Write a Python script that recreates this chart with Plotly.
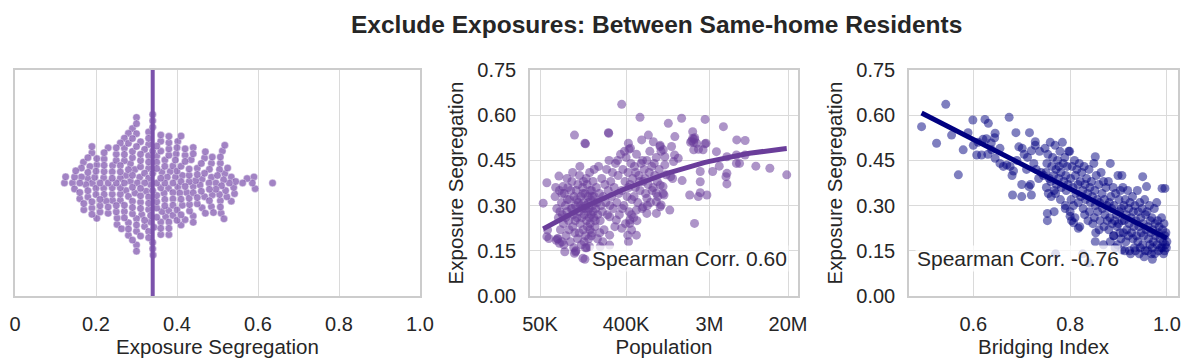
import numpy as np
import plotly.graph_objects as go

# ---- data ------------------------------------------------------------------
# panel 2: population (thousands) vs exposure segregation
population_k = [
    360, 560, 1530, 2700, 1110, 4200, 115, 148, 150, 261,
    263, 686, 2000, 2000, 1300, 583, 423, 773, 908, 984,
    430, 2050, 2200, 2760, 5800, 7100, 2050, 2570, 3550, 4570,
    5750, 6200, 9200, 12900, 19400, 3240, 4570, 4570, 3800, 2400,
    2400, 1860, 2290, 2820, 2090, 1550, 1230, 1150, 912, 977,
    832, 661, 603, 513, 437, 457, 513, 424, 360, 316,
    269, 269, 269, 214, 166, 148, 115, 91, 85, 74,
    76, 62, 60, 54, 59, 79, 87,
    1950, 2080, 1900, 2100, 2690, 1200, 912, 930, 1020, 1290,
    1410, 1260, 1020, 2300, 5750, 7080, 4470, 1050, 1175, 912,
    977, 933, 2400, 1000,
    59, 80, 118, 141, 150, 417, 437, 661, 832, 832,
    72, 75, 78, 80, 82, 84, 86, 88, 90, 92,
    94, 96, 98, 100, 102, 104, 106, 108, 110, 112,
    114, 116, 118, 120, 122, 124, 126, 128, 130, 132,
    134, 136, 138, 140, 142, 144, 146, 148, 150, 152,
    154, 156, 158, 160, 162, 164, 166, 168, 170, 172,
    174, 176, 178, 180, 183, 186, 189, 192, 195, 198,
    202, 206, 210, 214, 218, 222, 226, 230, 235, 240,
    245, 250, 255, 260, 265, 270, 276, 282, 288, 295,
    73, 77, 81, 85, 89, 93, 97, 101, 105, 109,
    113, 117, 121, 125, 129, 133, 137, 141, 145, 149,
    153, 157, 161, 165, 169, 173, 177, 181, 185, 190,
    96, 110, 119, 131, 143, 155, 167, 200, 212, 228,
    300, 310, 320, 330, 340, 350, 360, 370, 380, 390,
    400, 410, 420, 430, 440, 450, 460, 470, 480, 490,
    500, 515, 530, 545, 560, 575, 590, 605, 620, 640,
    660, 680, 700, 720, 745, 770, 800, 830, 860, 890,
    305, 335, 365, 395, 425, 455, 485, 520, 555, 595,
    630, 670, 710, 750, 790, 850, 325, 385, 445, 505,
]
pop_seg = [
    .636, .593, .590, .586, .573, .562, .534, .507, .505, .542,
    .540, .534, .545, .523, .529, .518, .507, .512, .496, .485,
    .487, .509, .507, .507, .518, .516, .485, .485, .479, .462,
    .440, .440, .431, .424, .402, .413, .407, .372, .431, .413,
    .379, .335, .330, .335, .241, .383, .390, .285, .296, .363,
    .313, .324, .296, .285, .252, .219, .202, .180, .225, .252,
    .263, .202, .169, .164, .164, .122, .142, .147, .180, .185,
    .190, .191, .219, .308, .376, .398, .363,
    .515, .520, .510, .525, .505, .496, .500, .480, .462, .468,
    .457, .446, .435, .487, .468, .468, .396, .402, .396, .368,
    .340, .302, .343, .335,
    .197, .175, .147, .125, .160, .202, .241, .274, .274, .341,
    .33, .29, .26, .35, .22, .31, .27, .24, .34, .30,
    .20, .28, .36, .25, .32, .18, .29, .38, .23, .27,
    .33, .21, .30, .35, .26, .19, .31, .28, .40, .24,
    .33, .17, .29, .36, .22, .31, .27, .34, .20, .30,
    .25, .37, .28, .33, .19, .29, .41, .24, .32, .27,
    .35, .21, .30, .38, .26, .33, .23, .29, .36, .31,
    .27, .43, .34, .25, .30, .39, .28, .33, .22, .37,
    .31, .42, .27, .35, .45, .30, .38, .33, .41, .29,
    .36, .19, .28, .34, .17, .26, .32, .22, .35, .29,
    .16, .25, .32, .37, .21, .30, .26, .34, .18, .29,
    .39, .23, .31, .26, .35, .20, .33, .28, .42, .25,
    .39, .41, .15, .43, .38, .16, .22, .19, .21, .18,
    .36, .44, .31, .40, .27, .47, .35, .42, .30, .38,
    .46, .33, .41, .28, .37, .44, .32, .39, .26, .43,
    .36, .47, .31, .40, .35, .44, .29, .38, .42, .34,
    .45, .37, .41, .31, .43, .36, .40, .46, .33, .42,
    .23, .34, .29, .24, .36, .27, .33, .25, .38, .45,
    .39, .30, .48, .35, .44, .38, .45, .48, .49, .41,
]

# panel 3: bridging index vs exposure segregation
bridging = [
    0.493, 0.543, 0.524, 0.569, 0.555, 0.579, 0.589, 0.599, 0.607, 0.617,
    0.620, 0.627, 0.637, 0.644, 0.624, 0.631, 0.645, 0.638, 0.645, 0.655,
    0.674, 0.688, 0.716, 0.728, 0.701, 0.720, 0.694, 0.680, 0.683, 0.700,
    0.715, 0.718, 0.681, 0.700, 0.720, 0.753, 0.753, 0.767, 0.770, 0.790,
    0.800, 0.807, 0.817, 0.852, 0.869, 0.826, 0.838, 0.907, 0.890, 0.970,
    0.990, 0.996, 0.950, 0.958, 0.883, 0.907, 0.852,
    0.600, 0.610, 0.630, 0.655, 0.662, 0.669, 0.676, 0.690, 0.705, 0.712,
    0.725, 0.730, 0.740, 0.737, 0.728, 0.745, 0.735, 0.710,
    0.748, 0.752, 0.750, 0.751, 0.754, 0.757, 0.755,
    0.759, 0.762, 0.760, 0.761, 0.764, 0.766, 0.767,
    0.769, 0.771, 0.772, 0.770, 0.774, 0.776, 0.777,
    0.779, 0.781, 0.782, 0.780, 0.784, 0.786, 0.787,
    0.789, 0.791, 0.792, 0.790, 0.794, 0.796, 0.797,
    0.799, 0.801, 0.802, 0.800, 0.803, 0.804, 0.806, 0.807,
    0.809, 0.811, 0.812, 0.810, 0.814, 0.816, 0.817,
    0.819, 0.821, 0.822, 0.820, 0.824, 0.826, 0.827,
    0.829, 0.831, 0.832, 0.830, 0.834, 0.836, 0.837,
    0.839, 0.841, 0.842, 0.840, 0.844, 0.846, 0.847,
    0.849, 0.851, 0.852, 0.850, 0.853, 0.854, 0.856, 0.857,
    0.859, 0.861, 0.862, 0.860, 0.864, 0.866, 0.867,
    0.869, 0.871, 0.872, 0.870, 0.874, 0.876, 0.877,
    0.879, 0.881, 0.882, 0.880, 0.883, 0.884, 0.886, 0.887,
    0.889, 0.891, 0.892, 0.890, 0.893, 0.894, 0.896, 0.897,
    0.899, 0.901, 0.902, 0.900, 0.903, 0.898, 0.904, 0.906, 0.907, 0.905,
    0.909, 0.911, 0.912, 0.910, 0.913, 0.914, 0.916, 0.917, 0.915,
    0.919, 0.921, 0.922, 0.920, 0.923, 0.924, 0.926, 0.927, 0.925,
    0.929, 0.931, 0.932, 0.930, 0.933, 0.934, 0.936, 0.937, 0.935,
    0.939, 0.941, 0.942, 0.940, 0.943, 0.944, 0.946, 0.947, 0.945,
    0.949, 0.951, 0.952, 0.950, 0.953, 0.954, 0.956, 0.957, 0.955,
    0.959, 0.961, 0.962, 0.960, 0.964, 0.966, 0.967, 0.965, 0.968,
    0.969, 0.971, 0.972, 0.970, 0.974, 0.976, 0.977, 0.975,
    0.979, 0.981, 0.982, 0.980, 0.983, 0.984, 0.986, 0.987,
    0.989, 0.991, 0.992, 0.990, 0.993, 0.994, 0.996, 0.997, 0.995,
    0.998, 1.000, 0.999,
]
bridge_seg = [
    .562, .636, .507, .402, .534, .485, .542, .584, .468, .468,
    .520, .522, .508, .525, .586, .573, .540, .485, .457, .490,
    .593, .542, .542, .512, .490, .482, .495, .400, .415, .370,
    .363, .370, .335, .330, .335, .274, .250, .280, .140, .300,
    .265, .243, .225, .180, .170, .140, .110, .153, .200, .122,
    .357, .357, .396, .363, .440, .400, .462,
    .50, .51, .47, .44, .43, .435, .43, .45, .47, .46,
    .44, .42, .41, .48, .50, .40, .39, .42,
    .49, .44, .41, .36, .47, .39, .34,
    .51, .43, .38, .33, .46, .40, .35,
    .50, .42, .37, .34, .45, .39, .43,
    .48, .41, .36, .32, .51, .44, .38,
    .46, .40, .35, .29, .43, .37, .48,
    .48, .39, .32, .28, .25, .43, .36, .30,
    .45, .40, .34, .26, .42, .37, .31,
    .44, .38, .33, .23, .41, .35, .29,
    .43, .37, .32, .27, .39, .34, .25,
    .42, .36, .31, .28, .38, .33, .24,
    .44, .35, .30, .26, .21, .40, .32, .28,
    .37, .31, .25, .22, .41, .34, .29,
    .38, .32, .27, .23, .36, .30, .25,
    .38, .31, .26, .22, .18, .33, .29, .24,
    .36, .30, .25, .20, .16, .34, .27, .23,
    .40, .32, .28, .24, .21, .17, .35, .29, .25, .19,
    .36, .30, .25, .21, .15, .32, .27, .22, .18,
    .35, .29, .24, .20, .15, .31, .26, .21, .14,
    .33, .28, .23, .19, .16, .30, .25, .20, .15,
    .35, .28, .23, .18, .14, .31, .26, .21, .16,
    .29, .24, .20, .17, .13, .32, .27, .22, .15,
    .28, .23, .19, .15, .30, .25, .21, .17, .14,
    .26, .22, .18, .16, .29, .24, .20, .14,
    .31, .25, .21, .17, .15, .23, .19, .16,
    .26, .22, .18, .16, .14, .24, .20, .17, .15,
    .21, .18, .16,
]
assert len(population_k) == len(pop_seg)
assert len(bridging) == len(bridge_seg)

# same cities feed the swarm in panel 1
swarm_seg = pop_seg

TITLE = "Exclude Exposures: Between Same-home Residents"
PURPLE = "#6a3d9a"
NAVY = "#000080"

# the page body has an 8px margin, so the figure is a little smaller than the
# window and every pixel position below is given in window pixels
OFF = 8
W, H = 1194 - OFF, 363 - OFF

# plot areas in window pixels (left, right) and (top, bottom)
X1, X2, X3 = (15, 420), (530, 798), (909, 1178)
YTOP, YBOT = 70, 296


def fx(p):
    return (p - OFF) / W


def fy(p):
    return 1 - (p - OFF) / H


def px_dom(a, b):
    return [fx(a), fx(b)]


ydom = [fy(YBOT), fy(YTOP)]


def beeswarm(vals, spacing, ppu):
    # swarm layout: place each dot as close to the centre line as it can go
    xs = np.asarray(vals, dtype=float) * ppu
    ys = np.zeros(len(xs))
    placed = []
    for i in np.argsort(xs):
        x = xs[i]
        neigh = [(px, py) for px, py in placed if abs(px - x) < spacing]
        cands = [0.0]
        for px, py in neigh:
            dy = np.sqrt(spacing ** 2 - (px - x) ** 2)
            cands += [py + dy, py - dy]
        cands.sort(key=abs)
        for c in cands:
            if all((px - x) ** 2 + (py - c) ** 2 >= spacing ** 2 - 1e-6 for px, py in neigh):
                ys[i] = c
                break
        placed.append((x, ys[i]))
    return ys


fig = go.Figure()

# ---- panel 1: swarm ----
offs = beeswarm(swarm_seg, 6.3, X1[1] - X1[0])
fig.add_trace(go.Scatter(
    x=swarm_seg, y=offs / ((YBOT - YTOP) / 2.0), mode="markers",
    marker=dict(size=7.5, color="rgba(118,72,168,0.68)",
                line=dict(width=0.4, color="white")),
    xaxis="x", yaxis="y", hoverinfo="x"))
med = float(np.median(swarm_seg))
fig.add_shape(type="line", x0=med, x1=med, y0=0, y1=1, xref="x", yref="y domain",
              line=dict(color="#7b52ab", width=4))

# ---- panel 2: population ----
pop = np.array(population_k) * 1000.0
fig.add_trace(go.Scatter(
    x=pop, y=pop_seg, mode="markers",
    marker=dict(size=9, color="rgba(106,61,154,0.55)", line=dict(width=0)),
    xaxis="x2", yaxis="y2"))
lp = np.log10(pop)
c2 = np.polyfit(lp, pop_seg, 2)
gx = np.linspace(lp.min(), lp.max(), 60)
fig.add_trace(go.Scatter(
    x=10 ** gx, y=np.polyval(c2, gx), mode="lines",
    line=dict(color=PURPLE, width=5), xaxis="x2", yaxis="y2"))

# ---- panel 3: bridging ----
fig.add_trace(go.Scatter(
    x=bridging, y=bridge_seg, mode="markers",
    marker=dict(size=9, color="rgba(0,0,128,0.5)", line=dict(width=0)),
    xaxis="x3", yaxis="y3"))
c3 = np.polyfit(bridging, bridge_seg, 1)
bx = np.array([min(bridging), max(bridging)])
fig.add_trace(go.Scatter(
    x=bx, y=np.polyval(c3, bx), mode="lines",
    line=dict(color=NAVY, width=5), xaxis="x3", yaxis="y3"))

axis_style = dict(showline=True, linecolor="#cccccc", linewidth=1.5, mirror=True,
                  gridcolor="#dadada", gridwidth=1, zeroline=False, ticks="",
                  automargin=False,
                  tickfont=dict(size=20), title_font=dict(size=20.5))
seg_ticks = [0, 0.15, 0.30, 0.45, 0.60, 0.75]

fig.update_layout(
    width=W, height=H, margin=dict(l=0, r=0, t=0, b=0, autoexpand=False),
    paper_bgcolor="white", plot_bgcolor="white", showlegend=False,
    font=dict(family="Liberation Sans, Arial, sans-serif", size=20, color="#262626"),
    xaxis=dict(domain=px_dom(*X1), range=[0, 1], anchor="y",
               tickvals=[0, 0.2, 0.4, 0.6, 0.8, 1.0],
               ticktext=["0", "0.2", "0.4", "0.6", "0.8", "1.0"],
               title=dict(text="Exposure Segregation", standoff=3),
               ticklabelstandoff=9, **axis_style),
    yaxis=dict(domain=ydom, range=[-1, 1], anchor="x", showticklabels=False,
               showgrid=False, **axis_style),
    xaxis2=dict(domain=px_dom(*X2), type="log",
                range=[np.log10(5e4) - 10 / 95.3, np.log10(2e7) + 10 / 95.3],
                anchor="y2", tickvals=[5e4, 4e5, 3e6, 2e7],
                ticktext=["50K", "400K", "3M", "20M"],
                title=dict(text="Population", standoff=3),
                ticklabelstandoff=9, **axis_style),
    yaxis2=dict(domain=ydom, range=[0, 0.75], anchor="x2", tickvals=seg_ticks,
                ticktext=["%.2f" % v for v in seg_ticks],
                title=dict(text="Exposure Segregation", standoff=8),
                ticklabelstandoff=8, **axis_style),
    xaxis3=dict(domain=px_dom(*X3), range=[0.467, 1.023], anchor="y3",
                tickvals=[0.6, 0.8, 1.0], ticktext=["0.6", "0.8", "1.0"],
                title=dict(text="Bridging Index", standoff=3),
                ticklabelstandoff=9, **axis_style),
    yaxis3=dict(domain=ydom, range=[0, 0.75], anchor="x3", tickvals=seg_ticks,
                ticktext=["%.2f" % v for v in seg_ticks],
                title=dict(text="Exposure Segregation", standoff=8),
                ticklabelstandoff=8, **axis_style),
)

note = dict(xref="paper", yref="paper", showarrow=False,
            xanchor="center", yanchor="middle")
fig.add_annotation(text="<b>" + TITLE + "</b>", x=fx(657), y=fy(24), borderpad=0,
                   font=dict(size=24.5, color="#262626"), **note)
fig.add_annotation(text="Spearman Corr. 0.60", x=fx(689), y=fy(259),
                   bgcolor="rgba(255,255,255,0.75)", borderpad=1,
                   font=dict(size=21, color="#262626"), **note)
fig.add_annotation(text="Spearman Corr. -0.76", x=fx(1018), y=fy(259),
                   bgcolor="rgba(255,255,255,0.75)", borderpad=1,
                   font=dict(size=21, color="#262626"), **note)

fig.write_html("out.html")
